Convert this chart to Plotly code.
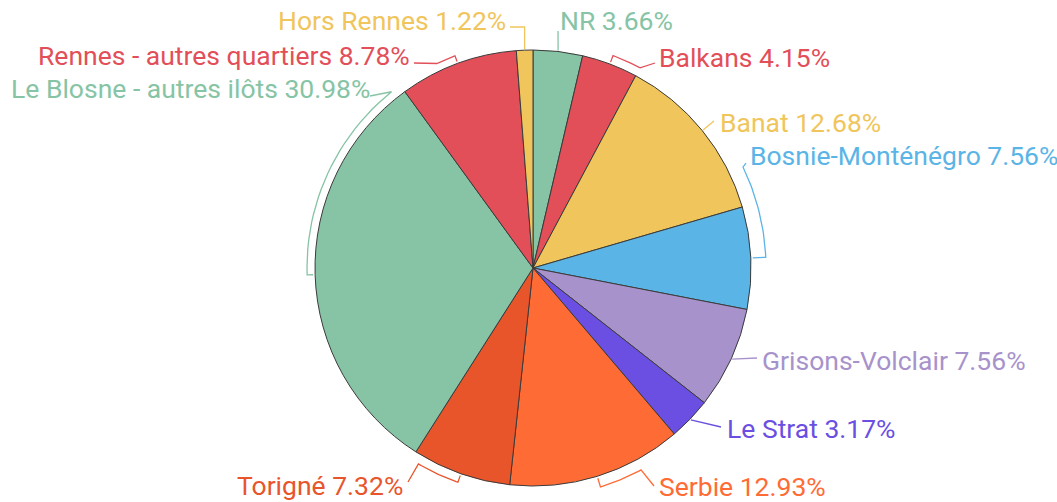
import math
import plotly.graph_objects as go

# ---- data ----
labels = ["NR", "Balkans", "Banat", "Bosnie-Monténégro", "Grisons-Volclair",
          "Le Strat", "Serbie", "Torigné", "Le Blosne - autres ilôts",
          "Rennes - autres quartiers", "Hors Rennes"]
values = [3.66, 4.15, 12.68, 7.56, 7.56, 3.17, 12.93, 7.32, 30.98, 8.78, 1.22]
colors = ["#86C4A5", "#E24F59", "#F0C55C", "#5BB4E6", "#A892CB",
          "#6A4FE2", "#FF6B35", "#E8552B", "#86C4A5", "#E24F59", "#F0C55C"]

# ---- layout (pixels) ----
W, H = 1057, 502
CX, CY, R = 533, 268, 218

# per label: text x, text y, anchor, leader end x, leader end y, bracket extent (deg), bracket offset, knee
label_layout = {
    "NR":                        (558, 20, "left", 558, 31, 0, 0, None),
    "Balkans":                   (657, 57, "left", 655, 63, 7.5, 9, None),
    "Banat":                     (718, 122, "left", 714, 121, 0, 0, None),
    "Bosnie-Monténégro":         (748, 155, "left", 746, 163, -23, 15, None),
    "Grisons-Volclair":          (760, 360, "left", 757, 358, 0, 0, None),
    "Le Strat":                  (725, 428, "left", 721, 427, 0, 0, None),
    "Serbie":                    (657, 486, "left", 654, 486, -11, 11, None),
    "Torigné":                   (405, 485, "right", 408, 482, 11, 9, None),
    "Le Blosne - autres ilôts":  (372, 88, "right", 370, 96, 53, 8, None),
    "Rennes - autres quartiers": (412, 55, "right", 414, 63, -5, 8, None),
    "Hors Rennes":               (508, 20, "right", 510, 27, 0, 0, "v"),
}

FONT = "Roboto, 'Open Sans', sans-serif"


def pt(theta_deg, r):
    t = math.radians(theta_deg)
    return CX + r * math.sin(t), CY - r * math.cos(t)


fig = go.Figure()

fig.add_trace(go.Pie(
    labels=labels, values=values, sort=False, direction="clockwise", rotation=0,
    marker=dict(colors=colors, line=dict(color="#3b3b3b", width=1)),
    textinfo="none", hoverinfo="label+percent", showlegend=False,
    domain=dict(x=[(CX - R) / W, (CX + R) / W],
                y=[(H - CY - R) / H, (H - CY + R) / H]),
))

total = sum(values)
cum = 0.0
annotations = []
for lab, val, col in zip(labels, values, colors):
    mid = (cum + val / 2) / total * 360
    cum += val
    tx, ty, anchor, ex, ey, ext, off, knee = label_layout[lab]
    xs, ys = [], []
    if ext:
        rb = R + off
        x0, y0 = pt(mid, R + 2)
        xs.append(x0); ys.append(y0)
        n = 24
        for i in range(n + 1):
            a = mid + ext * i / n
            x, y = pt(a, rb)
            xs.append(x); ys.append(y)
    else:
        x0, y0 = pt(mid, R + 1)
        xs.append(x0); ys.append(y0)
    if knee == "v":
        xs.append(xs[-1]); ys.append(ey)
    xs.append(ex); ys.append(ey)
    fig.add_trace(go.Scatter(x=xs, y=ys, mode="lines",
                             line=dict(color=col, width=1.3),
                             hoverinfo="skip", showlegend=False))
    annotations.append(dict(
        x=tx, y=ty, xref="x", yref="y", xanchor=anchor, yanchor="middle",
        text=f"{lab} {val:.2f}%", showarrow=False,
        font=dict(family=FONT, size=26.5, color=col)))

fig.update_layout(
    width=W, height=H, margin=dict(l=0, r=0, t=0, b=0),
    paper_bgcolor="white", plot_bgcolor="white",
    xaxis=dict(range=[0, W], visible=False, fixedrange=True),
    yaxis=dict(range=[H, 0], visible=False, fixedrange=True),
    annotations=annotations, showlegend=False,
)

fig.write_html("out.html", config={"displayModeBar": False},
               post_script="document.body.style.margin='0';document.body.style.overflow='hidden';")
